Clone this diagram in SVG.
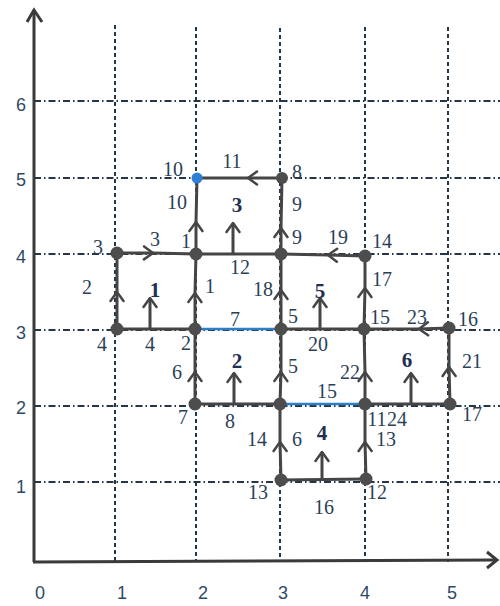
<svg xmlns="http://www.w3.org/2000/svg" width="500" height="606" viewBox="0 0 500 606">
<style>
.grid-v{stroke:#24364a;stroke-width:2;stroke-dasharray:4,3;fill:none}
.grid-h{stroke:#24364a;stroke-width:2;stroke-dasharray:7,3,1.5,3;fill:none}
.axis{stroke:#3a3a3a;stroke-width:3;fill:none}
.edge{stroke:#454545;stroke-width:3;fill:none;marker-mid:url(#chev)}
.plain{stroke:#454545;stroke-width:3;fill:none}
.blue{stroke:#2f7fc8;stroke-width:2.5;fill:none}
.farrow{stroke:#454545;stroke-width:3;fill:none;marker-end:url(#chev)}
.node{fill:#4d4d4d}
.lbl{font-family:"Liberation Serif",serif;font-size:20px;fill:#2b3f57;text-anchor:middle}
.face{font-family:"Liberation Serif",serif;font-size:21px;font-weight:bold;fill:#1f3050;text-anchor:middle}
.ax{font-family:"Liberation Sans",sans-serif;font-size:18px;fill:#2f4a66;text-anchor:middle}
</style>
<defs>
<marker id="chev" viewBox="-11 -8 13 16" markerWidth="13" markerHeight="16" markerUnits="userSpaceOnUse" refX="0" refY="0" orient="auto">
<path d="M-9,-6.5 L0,0 L-9,6.5" fill="none" stroke="#454545" stroke-width="2.5" stroke-linecap="round" stroke-linejoin="round"/>
</marker>
</defs>
<g id="grid">
<line class="grid-v" x1="115" y1="25" x2="115" y2="562"/>
<line class="grid-v" x1="196" y1="27" x2="196" y2="562"/>
<line class="grid-v" x1="280" y1="28" x2="280" y2="562"/>
<line class="grid-v" x1="365" y1="27" x2="365" y2="562"/>
<line class="grid-v" x1="448" y1="27" x2="448" y2="562"/>
<line class="grid-h" x1="34" y1="101" x2="500" y2="101"/>
<line class="grid-h" x1="34" y1="178" x2="500" y2="178"/>
<line class="grid-h" x1="34" y1="254" x2="500" y2="254"/>
<line class="grid-h" x1="34" y1="330" x2="500" y2="330"/>
<line class="grid-h" x1="34" y1="406" x2="500" y2="406"/>
<line class="grid-h" x1="34" y1="482" x2="500" y2="482"/>
</g>
<g id="axes">
<path class="axis" d="M34,562 L34,10"/>
<path class="axis" d="M27,22 L34,10 L42,22"/>
<path class="axis" d="M33,562 L497,560"/>
<path class="axis" d="M487,552 L497,560 L487,568"/>
<text class="ax" x="21" y="111">6</text>
<text class="ax" x="21" y="186">5</text>
<text class="ax" x="21" y="263">4</text>
<text class="ax" x="21" y="339">3</text>
<text class="ax" x="21" y="414">2</text>
<text class="ax" x="21" y="493">1</text>
<text class="ax" x="40" y="599">0</text>
<text class="ax" x="122" y="599">1</text>
<text class="ax" x="203" y="599">2</text>
<text class="ax" x="283" y="599">3</text>
<text class="ax" x="365" y="599">4</text>
<text class="ax" x="452" y="599">5</text>
</g>
<g id="connectors">
<path class="edge" d="M196,254 L196,222 L197,178"/>
<path class="edge" d="M282,178 L248,178 L197,178"/>
<path class="edge" d="M281,254 L281,228 L282,178"/>
<path class="edge" d="M117,253 L153,253 L196,254"/>
<path class="plain" d="M196,254 L281,254"/>
<path class="edge" d="M365,256 L328,255 L281,254"/>
<path class="edge" d="M117,329 L117,292 L117,253"/>
<path class="edge" d="M195,329 L195,293 L196,254"/>
<path class="edge" d="M281,329 L281,290 L281,254"/>
<path class="edge" d="M364,329 L365,288 L365,256"/>
<path class="plain" d="M117,329 L195,329"/>
<path class="blue" d="M195,329 L281,329"/>
<path class="plain" d="M281,329 L364,329"/>
<path class="edge" d="M449,328 L419,329 L364,329"/>
<path class="edge" d="M195,404 L195,372 L195,329"/>
<path class="edge" d="M280,404 L281,372 L281,329"/>
<path class="edge" d="M365,404 L365,372 L364,329"/>
<path class="edge" d="M450,404 L449,367 L449,328"/>
<path class="plain" d="M195,404 L280,404"/>
<path class="blue" d="M280,404 L365,404"/>
<path class="plain" d="M365,404 L450,404"/>
<path class="edge" d="M281,480 L280,442 L280,404"/>
<path class="edge" d="M366,479 L365,442 L365,404"/>
<path class="plain" d="M281,480 L366,479"/>
<path class="farrow" d="M233,254 L233,223"/>
<path class="farrow" d="M150,329 L150,298"/>
<path class="farrow" d="M320,329 L320,298"/>
<path class="farrow" d="M234,404 L234,373"/>
<path class="farrow" d="M411,404 L411,373"/>
<path class="farrow" d="M322,480 L322,452"/>
</g>
<g id="n10"><circle cx="197" cy="178" r="5.5" fill="#2f7fd4"/><text class="lbl" x="173" y="176">10</text></g>
<g id="n8"><circle class="node" cx="282" cy="178" r="6"/><text class="lbl" x="297" y="179">8</text></g>
<g id="n3"><circle class="node" cx="117" cy="253" r="6.5"/><text class="lbl" x="98" y="254">3</text></g>
<g id="n1"><circle class="node" cx="196" cy="254" r="6.5"/><text class="lbl" x="186" y="248">1</text></g>
<g id="n9"><circle class="node" cx="281" cy="254" r="6.5"/><text class="lbl" x="297" y="244">9</text></g>
<g id="n14"><circle class="node" cx="365" cy="256" r="6.5"/><text class="lbl" x="382" y="248">14</text></g>
<g id="n4"><circle class="node" cx="117" cy="329" r="6.5"/><text class="lbl" x="102" y="351">4</text></g>
<g id="n2"><circle class="node" cx="195" cy="329" r="6.5"/><text class="lbl" x="186" y="350">2</text></g>
<g id="n5"><circle class="node" cx="281" cy="329" r="6.5"/><text class="lbl" x="293" y="323">5</text></g>
<g id="n15"><circle class="node" cx="364" cy="329" r="6.5"/><text class="lbl" x="380" y="324">15</text></g>
<g id="n16"><circle class="node" cx="449" cy="328" r="6.5"/><text class="lbl" x="468" y="326">16</text></g>
<g id="n7"><circle class="node" cx="195" cy="404" r="6.5"/><text class="lbl" x="183" y="424">7</text></g>
<g id="n6"><circle class="node" cx="280" cy="404" r="6.5"/><text class="lbl" x="297" y="446">6</text></g>
<g id="n11"><circle class="node" cx="365" cy="404" r="6.5"/><text class="lbl" x="377" y="426">11</text></g>
<g id="n17"><circle class="node" cx="450" cy="404" r="6.5"/><text class="lbl" x="472" y="421">17</text></g>
<g id="n13"><circle class="node" cx="281" cy="480" r="6.5"/><text class="lbl" x="258" y="499">13</text></g>
<g id="n12"><circle class="node" cx="366" cy="479" r="6.5"/><text class="lbl" x="377" y="499">12</text></g>
<g id="edge-labels">
<text class="lbl" x="177" y="209">10</text>
<text class="lbl" x="232" y="168">11</text>
<text class="lbl" x="297" y="211">9</text>
<text class="lbl" x="155" y="246">3</text>
<text class="lbl" x="240" y="274">12</text>
<text class="lbl" x="338" y="244">19</text>
<text class="lbl" x="87" y="294">2</text>
<text class="lbl" x="210" y="293">1</text>
<text class="lbl" x="263" y="296">18</text>
<text class="lbl" x="382" y="286">17</text>
<text class="lbl" x="150" y="351">4</text>
<text class="lbl" x="235" y="326">7</text>
<text class="lbl" x="318" y="351">20</text>
<text class="lbl" x="417" y="324">23</text>
<text class="lbl" x="177" y="379">6</text>
<text class="lbl" x="293" y="373">5</text>
<text class="lbl" x="350" y="379">22</text>
<text class="lbl" x="472" y="368">21</text>
<text class="lbl" x="327" y="398">15</text>
<text class="lbl" x="230" y="428">8</text>
<text class="lbl" x="397" y="426">24</text>
<text class="lbl" x="257" y="446">14</text>
<text class="lbl" x="386" y="446">13</text>
<text class="lbl" x="324" y="514">16</text>
</g>
<g id="faces">
<text class="face" x="237" y="212">3</text>
<text class="face" x="155" y="297">1</text>
<text class="face" x="320" y="298">5</text>
<text class="face" x="237" y="368">2</text>
<text class="face" x="407" y="367">6</text>
<text class="face" x="322" y="440">4</text>
</g>
</svg>
